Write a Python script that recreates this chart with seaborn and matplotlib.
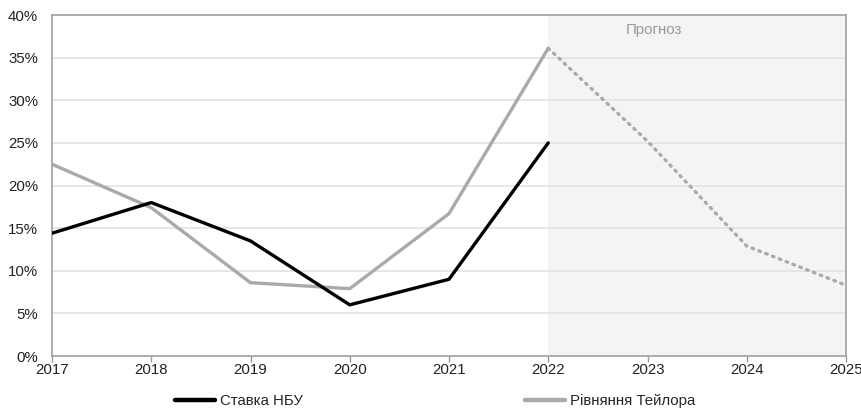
import matplotlib
matplotlib.use("Agg")
import matplotlib.pyplot as plt
import seaborn as sns
import pandas as pd
from matplotlib.lines import Line2D

years = [2017, 2018, 2019, 2020, 2021, 2022]
nbu_rate = [14.4, 18.0, 13.5, 6.0, 9.0, 25.0]
taylor_rate = [22.5, 17.4, 8.6, 7.9, 16.7, 36.1]
forecast_years = [2022, 2023, 2024, 2025]
taylor_forecast = [36.1, 25.2, 12.9, 8.3]
label_nbu = "Ставка НБУ"
label_taylor = "Рівняння Тейлора"
forecast_label = "Прогноз"

sns.set_theme(style="white")
plt.rcParams['font.family'] = ['Liberation Sans', 'DejaVu Sans']

fig = plt.figure(figsize=(8.62, 4.12), dpi=100)
ax = fig.add_axes([52/862, 56/412, (846-52)/862, (356-15)/412])

df_hist = pd.DataFrame({"year": years, "nbu": nbu_rate, "taylor": taylor_rate})
df_fc = pd.DataFrame({"year": forecast_years, "val": taylor_forecast})

ax.axvspan(2022, 2025, color="#f4f4f4", zorder=0, lw=0)
for yv in range(5, 40, 5):
    ax.axhline(yv, color="#e4e4e4", lw=1.3, zorder=1)

sns.lineplot(data=df_hist, x="year", y="taylor", color="#aaaaaa", lw=2.4, ax=ax, zorder=3)
sns.lineplot(data=df_hist, x="year", y="nbu", color="#000000", lw=2.4, ax=ax, zorder=4)
sns.lineplot(data=df_fc, x="year", y="val", color="#aaaaaa", lw=2.4, ls=(0, (0.5, 1.7)),
             dash_capstyle="round", ax=ax, zorder=3)

ax.set_xlim(2017, 2025)
ax.set_ylim(0, 40)
ax.set_xticks(range(2017, 2026))
ax.set_xticklabels([str(y) for y in range(2017, 2026)])
ax.set_yticks(range(0, 45, 5))
ax.set_yticklabels([f"{v}%" for v in range(0, 45, 5)])
ax.set_xlabel("")
ax.set_ylabel("")
ax.tick_params(axis="x", length=4, width=1, color="#999999", direction="out", pad=1, labelsize=10.8, labelcolor="#222222")
ax.tick_params(axis="y", length=0, pad=10, labelsize=10.8, labelcolor="#222222")
ax.xaxis.set_ticks_position("bottom")
for s in ax.spines.values():
    s.set_color("#a0a0a0")
    s.set_linewidth(1.2)
    s.set_visible(True)

ax.text(2023.06, 38.2, forecast_label, color="#999999", fontsize=10.8, ha="center", va="center")

handles = [Line2D([], [], color="#000000", lw=3.2), Line2D([], [], color="#aaaaaa", lw=3.2)]
fig.legend(handles, [label_nbu, label_taylor], loc="center left", bbox_to_anchor=(175/862, 1 - 401/412),
           ncol=2, frameon=False, fontsize=10.8, handlelength=2.67, handletextpad=0.33,
           columnspacing=14.8, borderpad=0, borderaxespad=0)

fig.savefig("out.png", dpi=100)
